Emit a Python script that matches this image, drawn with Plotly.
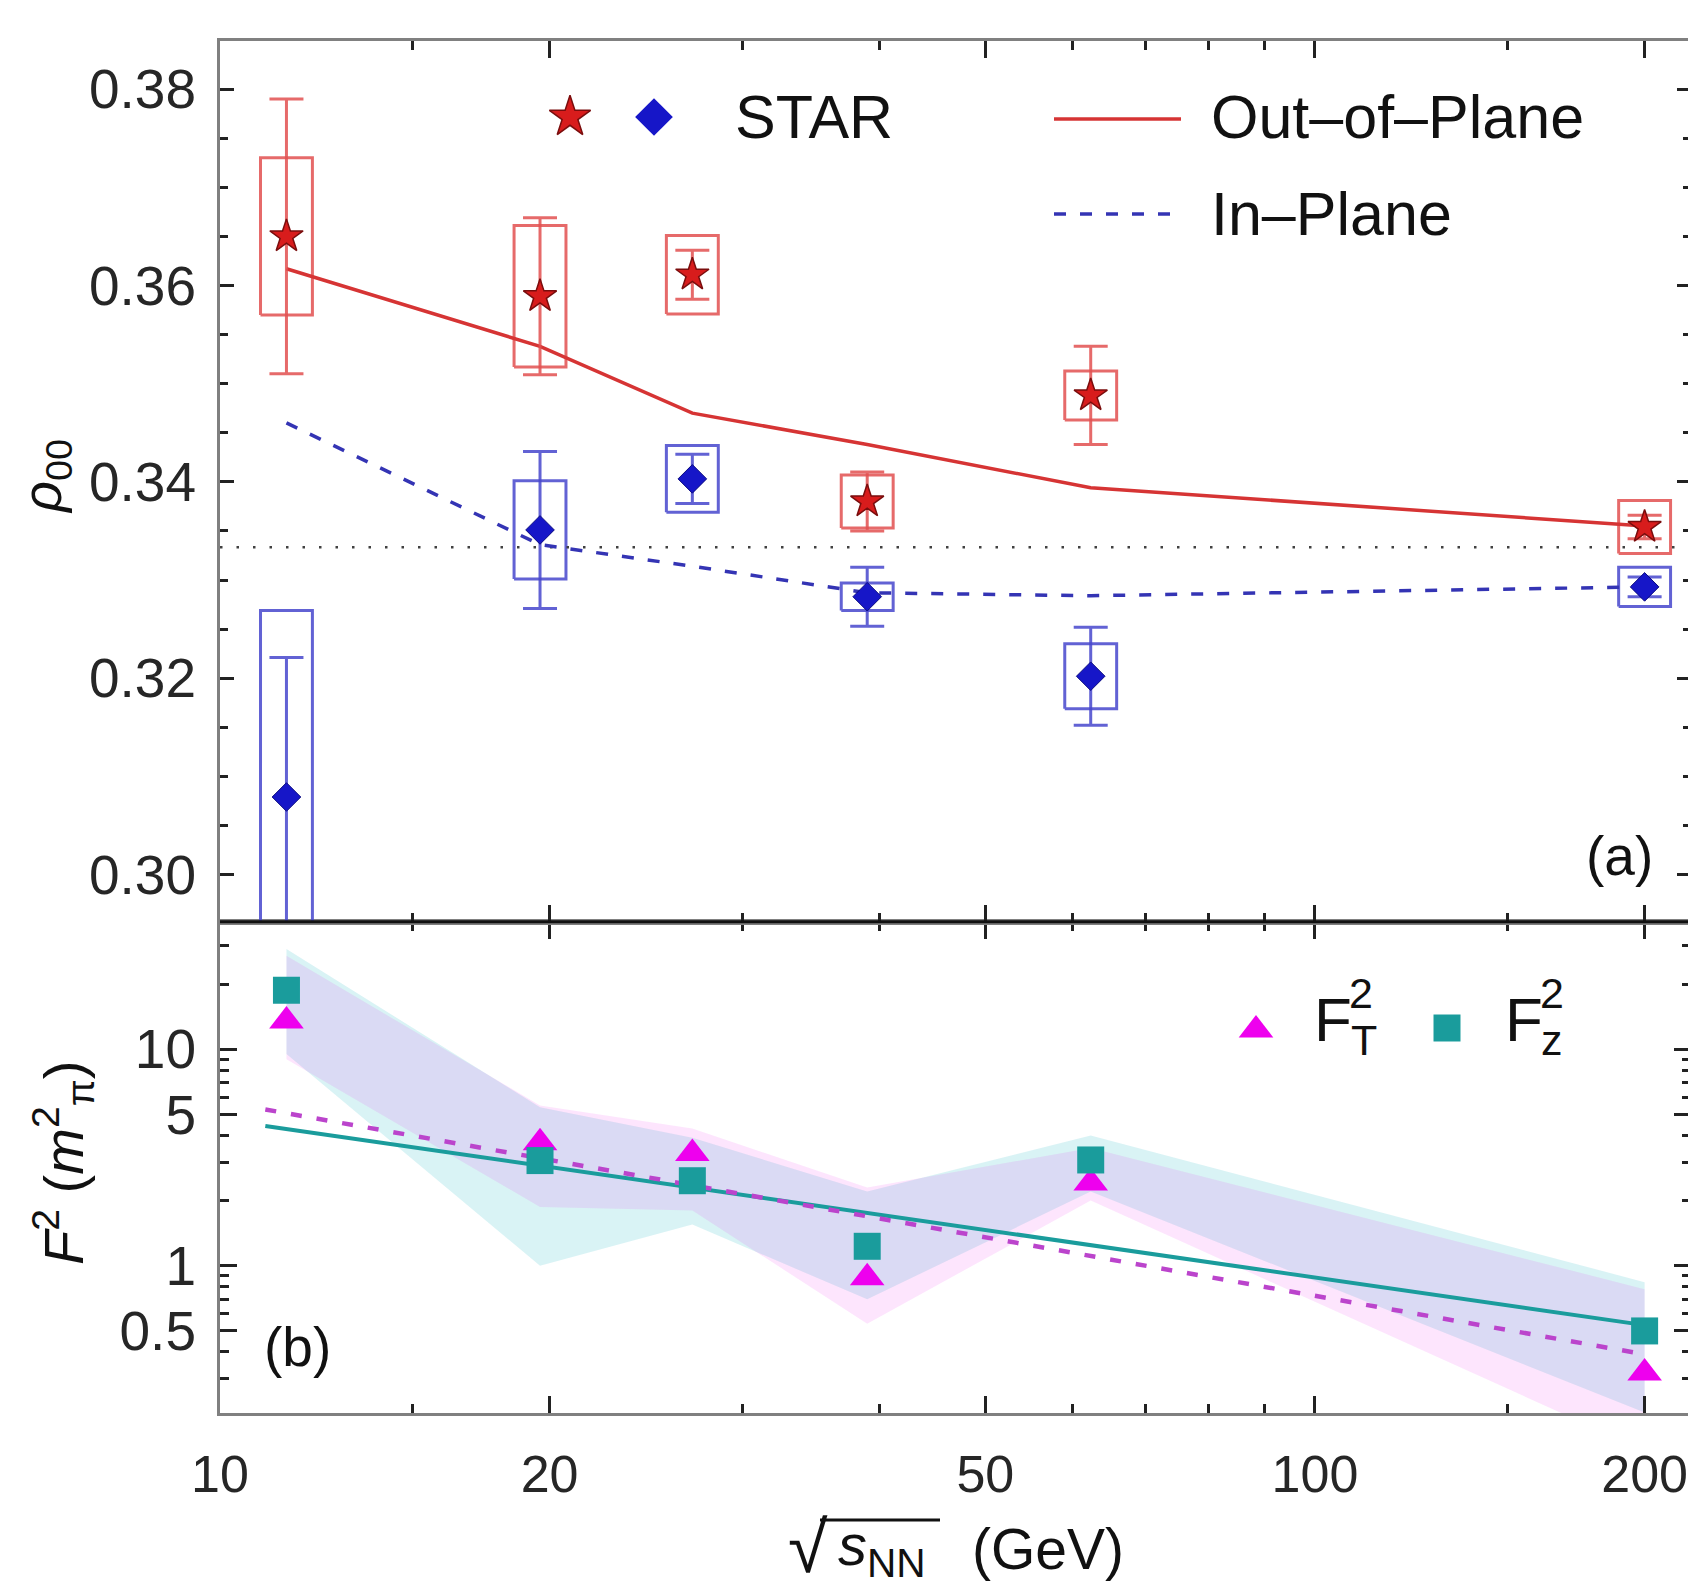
import plotly.graph_objects as go

# ---------------- data ----------------
energy = [11.5, 19.6, 27.0, 39.0, 62.4, 200.0]

# panel (a): STAR phi-meson rho_00
out_rho = [0.3650, 0.3589, 0.3611, 0.3380, 0.3488, 0.3354]
out_stat = [0.0140, 0.0080, 0.0025, 0.0030, 0.0050, 0.0012]
out_sys = [0.0080, 0.0072, 0.0040, 0.0027, 0.0025, 0.0027]
in_rho = [0.3079, 0.3351, 0.3403, 0.3283, 0.3202, 0.3293]
in_stat = [0.0142, 0.0080, 0.0025, 0.0030, 0.0050, 0.0010]
in_sys = [0.0190, 0.0050, 0.0034, 0.0014, 0.0033, 0.0020]

out_model = [0.3617, 0.3538, 0.3470, 0.3438, 0.3394, 0.3355]
in_model = [0.3460, 0.3336, 0.3314, 0.3287, 0.3284, 0.3293]
rho_iso = 1.0 / 3.0

# panel (b): field fluctuations
FT2 = [13.5, 3.70, 3.30, 0.88, 2.41, 0.32]
Fz2 = [18.7, 3.06, 2.47, 1.23, 3.08, 0.50]
FT2_hi = [27.0, 5.5, 4.3, 2.3, 3.5, 0.78]
FT2_lo = [9.0, 1.87, 1.80, 0.54, 2.0, 0.14]
Fz2_hi = [29.0, 5.4, 3.9, 2.2, 4.0, 0.84]
Fz2_lo = [9.5, 1.0, 1.55, 0.70, 2.2, 0.21]
fit_energy = [11.0, 200.0]
FT2_fit = [5.27, 0.39]
Fz2_fit = [4.42, 0.532]

x_major = [10, 20, 50, 100, 200]
x_minor = [15, 30, 40, 60, 70, 80, 90, 150]
rho_major = [0.30, 0.32, 0.34, 0.36, 0.38]
rho_major_text = ["0.30", "0.32", "0.34", "0.36", "0.38"]
rho_minor = [0.305, 0.31, 0.315, 0.325, 0.33, 0.335, 0.345, 0.35, 0.355,
             0.365, 0.37, 0.375]
F_major = [0.5, 1, 5, 10]
F_major_text = ["0.5", "1", "5", "10"]
F_minor = [0.3, 0.4, 0.6, 0.7, 0.8, 0.9, 2, 3, 4, 6, 7, 8, 9, 20, 30]

# ---------------- layout constants ----------------
# the page body has an 8px default margin; the figure is sized to fit the window
BODY = 8
W, H = 1696 - BODY, 1593 - BODY
PLOT_L, PLOT_T, PW, PH = 220, 41, 1471, 1372      # plot area in window pixels
ML, MT = PLOT_L - BODY, PLOT_T - BODY
MR, MB = W - ML - PW, H - MT - PH
SPLIT = 0.3581
X_RANGE = [1.0, 2.3434]
RHO_RANGE = [0.2952, 0.3849]
F_RANGE = [-0.68, 1.589]
BOX_F = 10 ** 0.0237   # half width of systematic boxes (log factor)

FONT = "Liberation Sans, Arial, sans-serif"
RED_MK, RED_LT, RED_LN = "#d81c1c", "rgba(226,80,80,0.85)", "#d63434"
BLU_MK, BLU_LT, BLU_LN = "#1616c8", "rgba(70,70,205,0.85)", "#3434b4"
MAG, TEAL = "#ee00ee", "#1a9c9c"
FRAME = "#808080"


def px_x(px):
    return (px - PLOT_L) / PW


def px_y(py):
    return (PLOT_T + PH - py) / PH


def boxes(xs, ys, ss):
    bx, by = [], []
    for x, y, s in zip(xs, ys, ss):
        xl, xr = x / BOX_F, x * BOX_F
        bx += [xl, xr, xr, xl, xl, None]
        by += [y - s, y - s, y + s, y + s, y - s, None]
    return bx, by


fig = go.Figure()

# ---- panel (a) ----
for ys, ss, col in [(out_rho, out_sys, RED_LT), (in_rho, in_sys, BLU_LT)]:
    bx, by = boxes(energy, ys, ss)
    fig.add_trace(go.Scatter(x=bx, y=by, mode="lines", xaxis="x2", yaxis="y2",
                             line=dict(color=col, width=3), showlegend=False))

fig.add_trace(go.Scatter(x=[10 ** X_RANGE[0], 10 ** X_RANGE[1]], y=[rho_iso, rho_iso],
                         mode="lines", xaxis="x2", yaxis="y2",
                         line=dict(color="#404040", width=2.5, dash="2.5px,14px"),
                         showlegend=False))
fig.add_trace(go.Scatter(x=energy, y=out_model, mode="lines", xaxis="x2", yaxis="y2",
                         line=dict(color=RED_LN, width=3.5), showlegend=False))
fig.add_trace(go.Scatter(x=energy, y=in_model, mode="lines", xaxis="x2", yaxis="y2",
                         line=dict(color=BLU_LN, width=3.5, dash="12px,14px"),
                         showlegend=False))

fig.add_trace(go.Scatter(x=energy, y=out_rho, mode="markers", xaxis="x2", yaxis="y2",
                         marker=dict(symbol="star", size=25, color=RED_MK,
                                     line=dict(color="#7a0d0d", width=1.5)),
                         error_y=dict(type="data", array=out_stat, visible=True,
                                      thickness=3, width=17, color=RED_LT),
                         showlegend=False))
fig.add_trace(go.Scatter(x=energy, y=in_rho, mode="markers", xaxis="x2", yaxis="y2",
                         marker=dict(symbol="diamond", size=22, color=BLU_MK,
                                     line=dict(color="#0a0a80", width=1)),
                         error_y=dict(type="data", array=in_stat, visible=True,
                                      thickness=3, width=17, color=BLU_LT),
                         showlegend=False))

# ---- panel (b) ----
fig.add_trace(go.Scatter(x=energy + energy[::-1], y=Fz2_hi + Fz2_lo[::-1],
                         fill="toself", fillcolor="rgba(0,175,190,0.15)",
                         line=dict(width=0), mode="lines", hoverinfo="skip",
                         showlegend=False))
fig.add_trace(go.Scatter(x=energy + energy[::-1], y=FT2_hi + FT2_lo[::-1],
                         fill="toself", fillcolor="rgba(235,0,235,0.10)",
                         line=dict(width=0), mode="lines", hoverinfo="skip",
                         showlegend=False))
fig.add_trace(go.Scatter(x=fit_energy, y=Fz2_fit, mode="lines",
                         line=dict(color=TEAL, width=4), showlegend=False))
fig.add_trace(go.Scatter(x=fit_energy, y=FT2_fit, mode="lines",
                         line=dict(color="#bb44cc", width=4.5, dash="11px,15px"),
                         showlegend=False))
fig.add_trace(go.Scatter(x=energy, y=FT2, mode="markers",
                         marker=dict(symbol="triangle-up", size=30, color=MAG),
                         showlegend=False))
fig.add_trace(go.Scatter(x=energy, y=Fz2, mode="markers",
                         marker=dict(symbol="square", size=27, color=TEAL),
                         showlegend=False))

# ---- legend keys (overlay axes in paper units) ----
LEG_Y1, LEG_Y2, LEG_YB = px_y(117), px_y(214), px_y(1030)
fig.add_trace(go.Scatter(x=[px_x(570)], y=[LEG_Y1], mode="markers", xaxis="x3", yaxis="y3",
                         marker=dict(symbol="star", size=31, color=RED_MK,
                                     line=dict(color="#7a0d0d", width=1.5)),
                         showlegend=False))
fig.add_trace(go.Scatter(x=[px_x(654)], y=[LEG_Y1], mode="markers", xaxis="x3", yaxis="y3",
                         marker=dict(symbol="diamond", size=29, color=BLU_MK),
                         showlegend=False))
fig.add_trace(go.Scatter(x=[px_x(1054), px_x(1181)], y=[px_y(119)] * 2, mode="lines",
                         xaxis="x3", yaxis="y3", line=dict(color=RED_LN, width=3.5),
                         showlegend=False))
fig.add_trace(go.Scatter(x=[px_x(1054), px_x(1181)], y=[LEG_Y2] * 2, mode="lines",
                         xaxis="x3", yaxis="y3",
                         line=dict(color=BLU_LN, width=3.5, dash="12px,14px"),
                         showlegend=False))
fig.add_trace(go.Scatter(x=[px_x(1256)], y=[LEG_YB], mode="markers", xaxis="x3", yaxis="y3",
                         marker=dict(symbol="triangle-up", size=30, color=MAG),
                         showlegend=False))
fig.add_trace(go.Scatter(x=[px_x(1447)], y=[px_y(1028)], mode="markers", xaxis="x3", yaxis="y3",
                         marker=dict(symbol="square", size=27, color=TEAL),
                         showlegend=False))

xtickfont = dict(family=FONT, size=52, color="#262626")
ytickfont = dict(family=FONT, size=55, color="#262626")


def xaxis_common(show_labels):
    return dict(type="log", range=X_RANGE, showgrid=False, zeroline=False,
                automargin=False,
                showline=True, linecolor=FRAME, linewidth=3, mirror="ticks",
                ticks="inside", ticklen=17, tickwidth=3, tickcolor="#222",
                tickmode="array", tickvals=x_major,
                ticktext=[str(v) for v in x_major],
                showticklabels=show_labels, tickfont=xtickfont,
                ticklabelstandoff=14,
                minor=dict(tickmode="array", tickvals=x_minor, ticks="inside",
                           ticklen=9, tickwidth=2.5, tickcolor="#222"))


fig.update_layout(
    width=W, height=H,
    margin=dict(l=ML, r=MR, t=MT, b=MB, pad=0, autoexpand=False),
    paper_bgcolor="white", plot_bgcolor="rgba(0,0,0,0)",
    font=dict(family=FONT, color="#111"),
    showlegend=False,
    xaxis=dict(anchor="y", domain=[0, 1], **xaxis_common(True)),
    xaxis2=dict(anchor="y2", domain=[0, 1], **xaxis_common(False)),
    yaxis=dict(type="log", domain=[0, SPLIT], range=F_RANGE, anchor="x",
               automargin=False,
               showgrid=False, zeroline=False, showline=True, linecolor=FRAME,
               linewidth=3, mirror="ticks", ticks="inside", ticklen=17, tickwidth=3,
               tickcolor="#222", tickmode="array", tickvals=F_major,
               ticktext=F_major_text, tickfont=ytickfont, ticklabelstandoff=10,
               minor=dict(tickmode="array", tickvals=F_minor, ticks="inside",
                          ticklen=9, tickwidth=2.5, tickcolor="#222")),
    yaxis2=dict(domain=[SPLIT, 1], range=RHO_RANGE, anchor="x2",
                automargin=False,
                showgrid=False, zeroline=False, showline=True, linecolor=FRAME,
                linewidth=3, mirror="ticks", ticks="inside", ticklen=14, tickwidth=3,
                tickcolor="#222", tickmode="array", tickvals=rho_major,
                ticktext=rho_major_text, tickfont=ytickfont, ticklabelstandoff=10,
                minor=dict(tickmode="array", tickvals=rho_minor, ticks="inside",
                           ticklen=8, tickwidth=2.5, tickcolor="#222")),
    xaxis3=dict(domain=[0, 1], range=[0, 1], anchor="y3", visible=False,
                fixedrange=True, automargin=False),
    yaxis3=dict(domain=[0, 1], range=[0, 1], anchor="x3", visible=False,
                fixedrange=True, automargin=False),
)

# divider between panels
fig.add_shape(type="line", xref="paper", yref="paper", x0=0, x1=1, y0=SPLIT, y1=SPLIT,
              line=dict(color="#111", width=3), layer="above")

ann = []


def text(x, y, s, size, xanchor="left", angle=0, color="#111"):
    ann.append(dict(x=x, y=y, xref="paper", yref="paper", text=s, showarrow=False,
                    xanchor=xanchor, yanchor="middle", textangle=angle,
                    font=dict(family=FONT, size=size, color=color)))


text(px_x(733), LEG_Y1, "STAR", 61)
text(px_x(1209), px_y(117), "Out\u2013of\u2013Plane", 61)
text(px_x(1209), LEG_Y2, "In\u2013Plane", 61)
text(px_x(1619), px_y(856), "(a)", 55, xanchor="center")
text(px_x(297), px_y(1347), "(b)", 55, xanchor="center")
# F_T^2 and F_z^2 legend labels (stacked sub/superscripts)
text(px_x(1312), px_y(1019), "F", 62)
text(px_x(1347), px_y(993), "2", 43)
text(px_x(1349), px_y(1040), "T", 43)
text(px_x(1503), px_y(1019), "F", 62)
text(px_x(1538), px_y(993), "2", 43)
text(px_x(1539), px_y(1040), "z", 43)
# axis titles
text(px_x(46), px_y(477), "<i>\u03c1</i><sub>00</sub>", 54, xanchor="center", angle=-90)
text(px_x(63), px_y(1163), "<i>F</i><sup>2</sup> (<i>m</i><sup>2</sup><sub>\u03c0</sub>)",
     56, xanchor="center", angle=-90)
text(px_x(786), px_y(1547), "\u221a", 72)
text(px_x(836), px_y(1549), "<i>s</i><sub>NN</sub>", 58)
text(px_x(970), px_y(1549), "(GeV)", 57)
fig.update_layout(annotations=ann)

# overline of the square root
fig.add_shape(type="line", xref="paper", yref="paper", x0=px_x(820), x1=px_x(940),
              y0=px_y(1520), y1=px_y(1520), line=dict(color="#111", width=3))

fig.write_html("out.html")
